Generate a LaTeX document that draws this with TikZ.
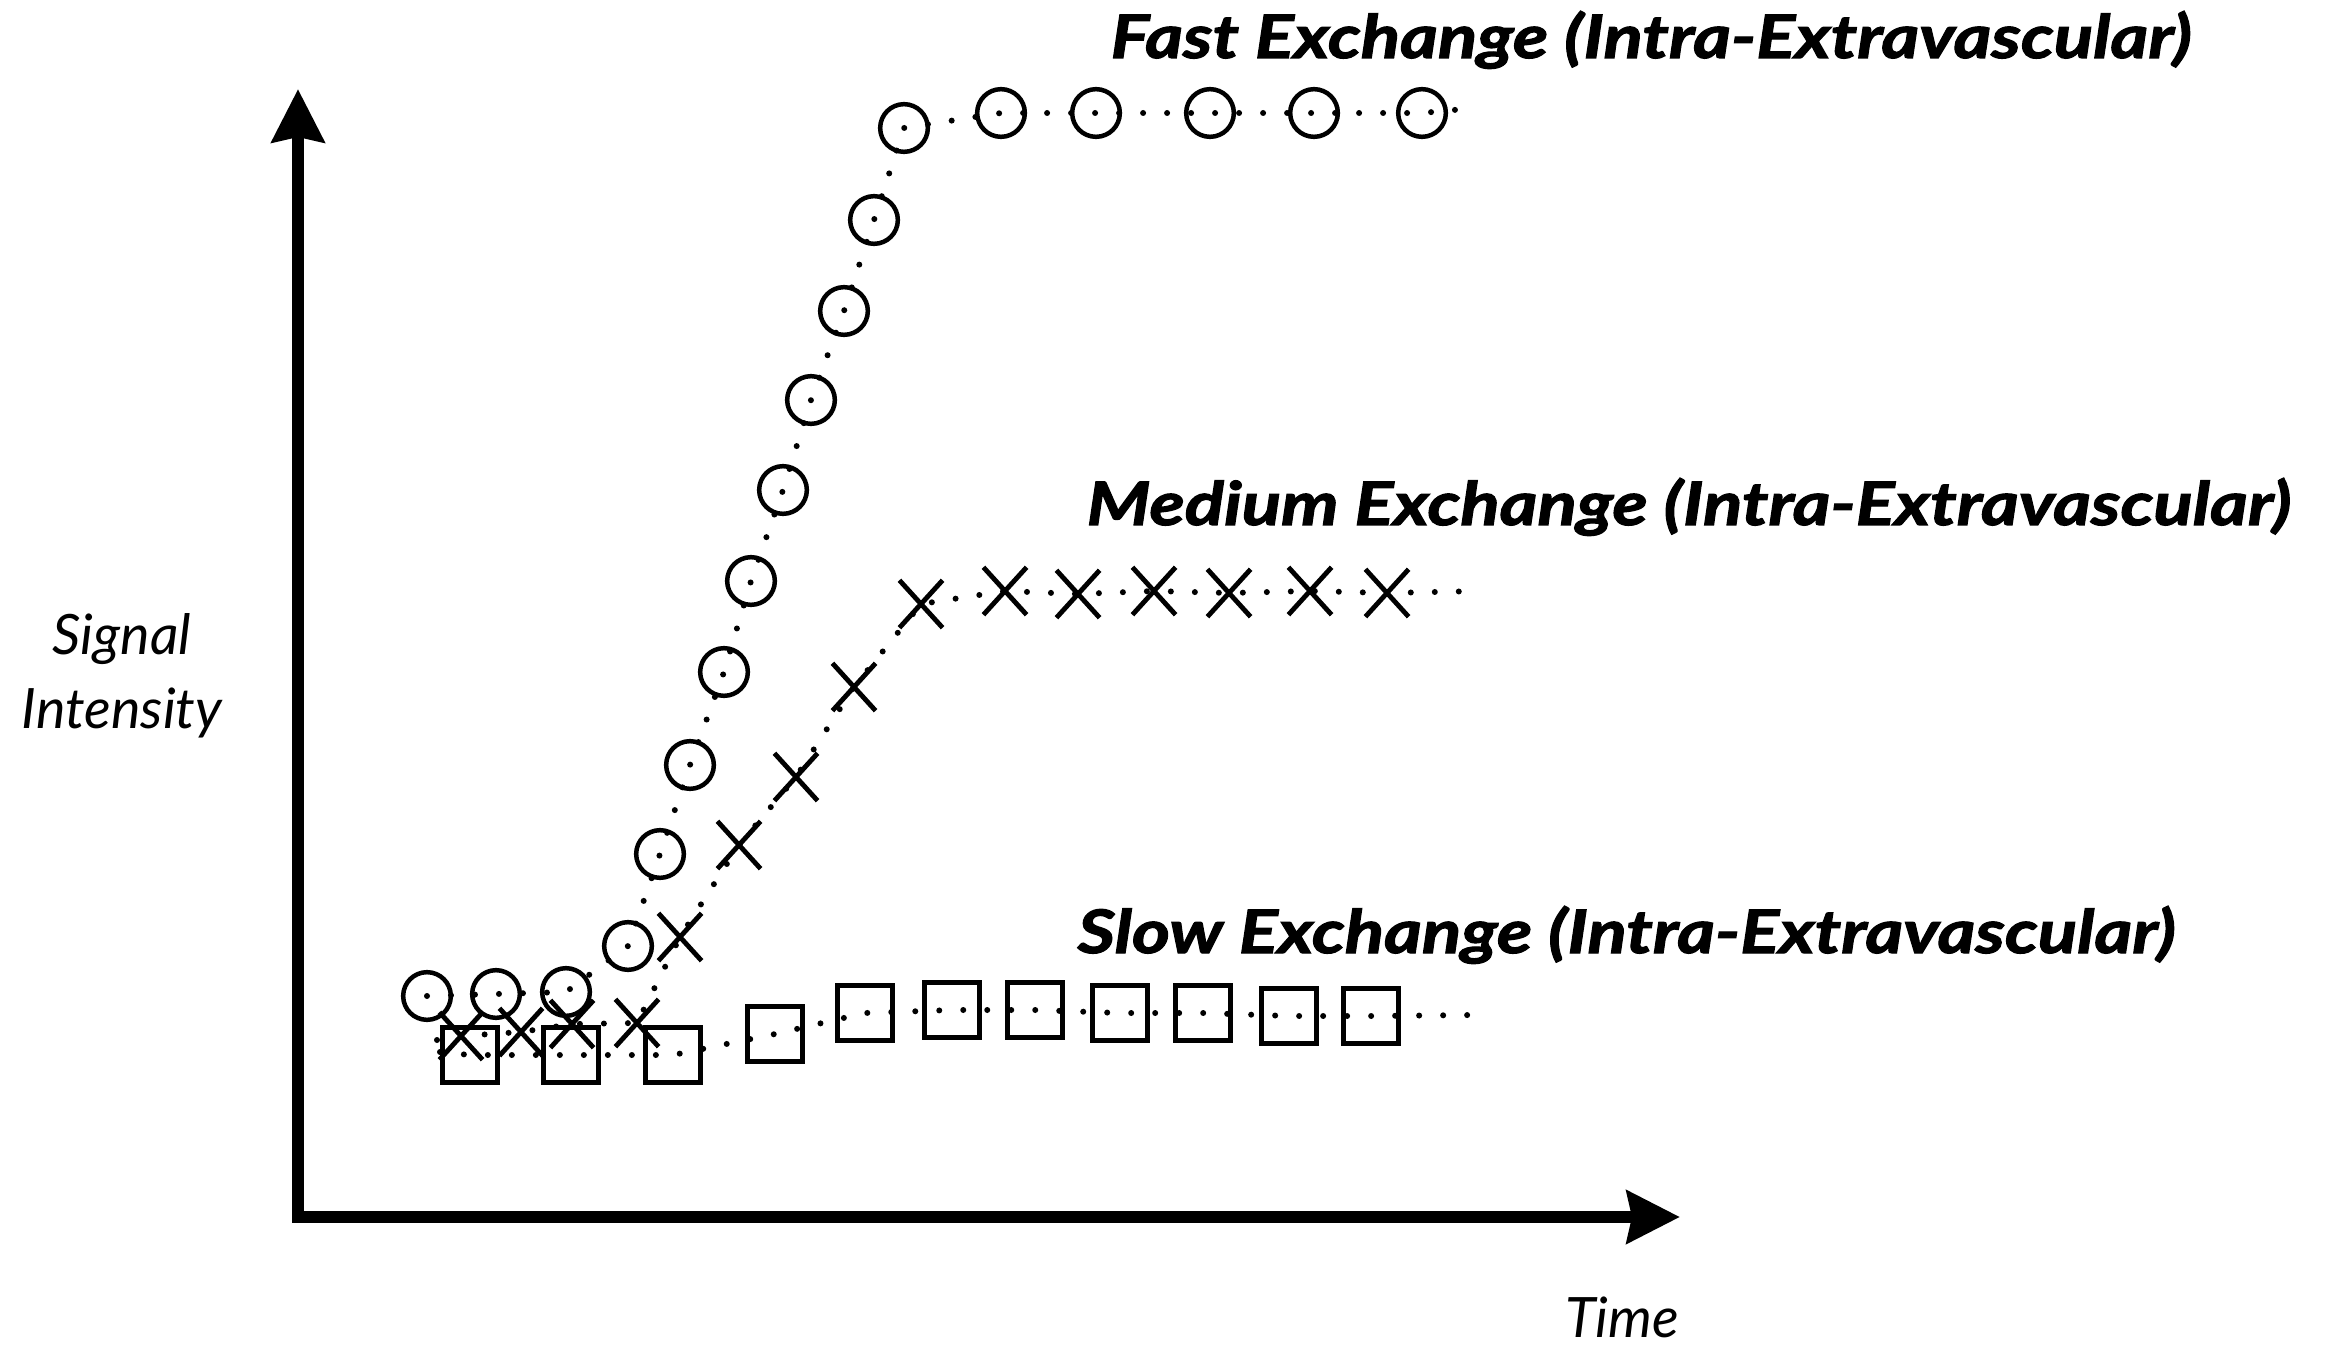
\documentclass[tikz,border=0pt]{standalone}
\usepackage{fontspec}
\newfontfamily\labfont{Lato}
\newfontfamily\titfont[BoldItalicFeatures={FakeStretch=1.21,FakeBold=2}]{Lato}
\usetikzlibrary{arrows.meta,shapes.misc}
\begin{document}
\begin{tikzpicture}[x=0.3pt,y=-0.3pt,
  axisline/.style={line width=3.6pt, line join=miter,
    {Stealth[length=15.9pt,width=15.6pt,inset=1.5pt]}-{Stealth[length=15.9pt,width=15.6pt,inset=1.5pt]}},
  circ/.style={circle, draw, line width=1.35pt, minimum size=14.3pt, inner sep=0pt},
  sq/.style={rectangle, draw, line width=1.45pt, minimum size=16.3pt, inner sep=0pt},
  xm/.style={cross out, draw, line width=1.45pt, minimum width=11.5pt, minimum height=12.8pt, inner sep=0pt},
  dotline/.style={line width=1.8pt, line cap=round, dash pattern=on 0pt off 7.2pt},
  title/.style={anchor=base west, inner sep=0pt, font=\titfont\fontsize{18pt}{21pt}\selectfont\bfseries\itshape},
  axlab/.style={anchor=base, inner sep=0pt, font=\labfont\fontsize{16.7pt}{20pt}\selectfont\itshape}]
\useasboundingbox[fill=white] (0,0) rectangle (2342,1348);

% axes
\coordinate (ytip) at (298,89);
\coordinate (xtip) at (1680,1217);
\draw[axisline] (ytip) |- (xtip);

% fast exchange (circles)
\foreach \x/\y [count=\i] in {427/996,496/994,566/992,628/946,660/854,690/765,724/672,751/581,783/490,811/400,844/311,874/220,904/128,1001/113,1096/113,1210/113,1314/113,1422/113}
  \node[circ] (c\i) at (\x,\y) {};
\coordinate (cend) at (1475,108);
\draw[dotline] (c1.center) \foreach \i in {2,...,18} { -- (c\i.center) } -- (cend);

% medium exchange (crosses)
\foreach \x/\y [count=\i] in {461/1036,521/1032,572/1024,637/1023,680/937,739/845,796/777,854/687,921/604,1005/591,1078/594,1154/591,1229/593,1310/591,1387/593}
  \node[xm] (m\i) at (\x,\y) {};
\coordinate (mstart) at (437,1040);
\coordinate (mend) at (1482,591);
\draw[dotline] (mstart) \foreach \i in {1,...,15} { -- (m\i.center) } -- (mend);

% slow exchange (squares)
\foreach \x/\y [count=\i] in {470/1055,571/1055,673/1055,775/1034,865/1013,952/1010,1035/1010,1120/1013,1203/1013,1289/1016,1371/1016}
  \node[sq] (s\i) at (\x,\y) {};
\coordinate (sstart) at (440,1052);
\coordinate (send) at (1475,1015);
\draw[dotline] (sstart) \foreach \i in {1,...,11} { -- (s\i.center) } -- (send);

% labels
\node[title] (tfast) at (1110,58) {Fast Exchange (Intra-Extravascular)};
\node[title] (tmed) at (1086,525) {Medium Exchange (Intra-Extravascular)};
\node[title] (tslow) at (1077,953) {Slow Exchange (Intra-Extravascular)};
\node[axlab] (sig1) at (122,655) {Signal};
\node[axlab] (sig2) at (122,728) {Intensity};
\node[axlab] (time) at (1622,1337) {Time};
\end{tikzpicture}
\end{document}
